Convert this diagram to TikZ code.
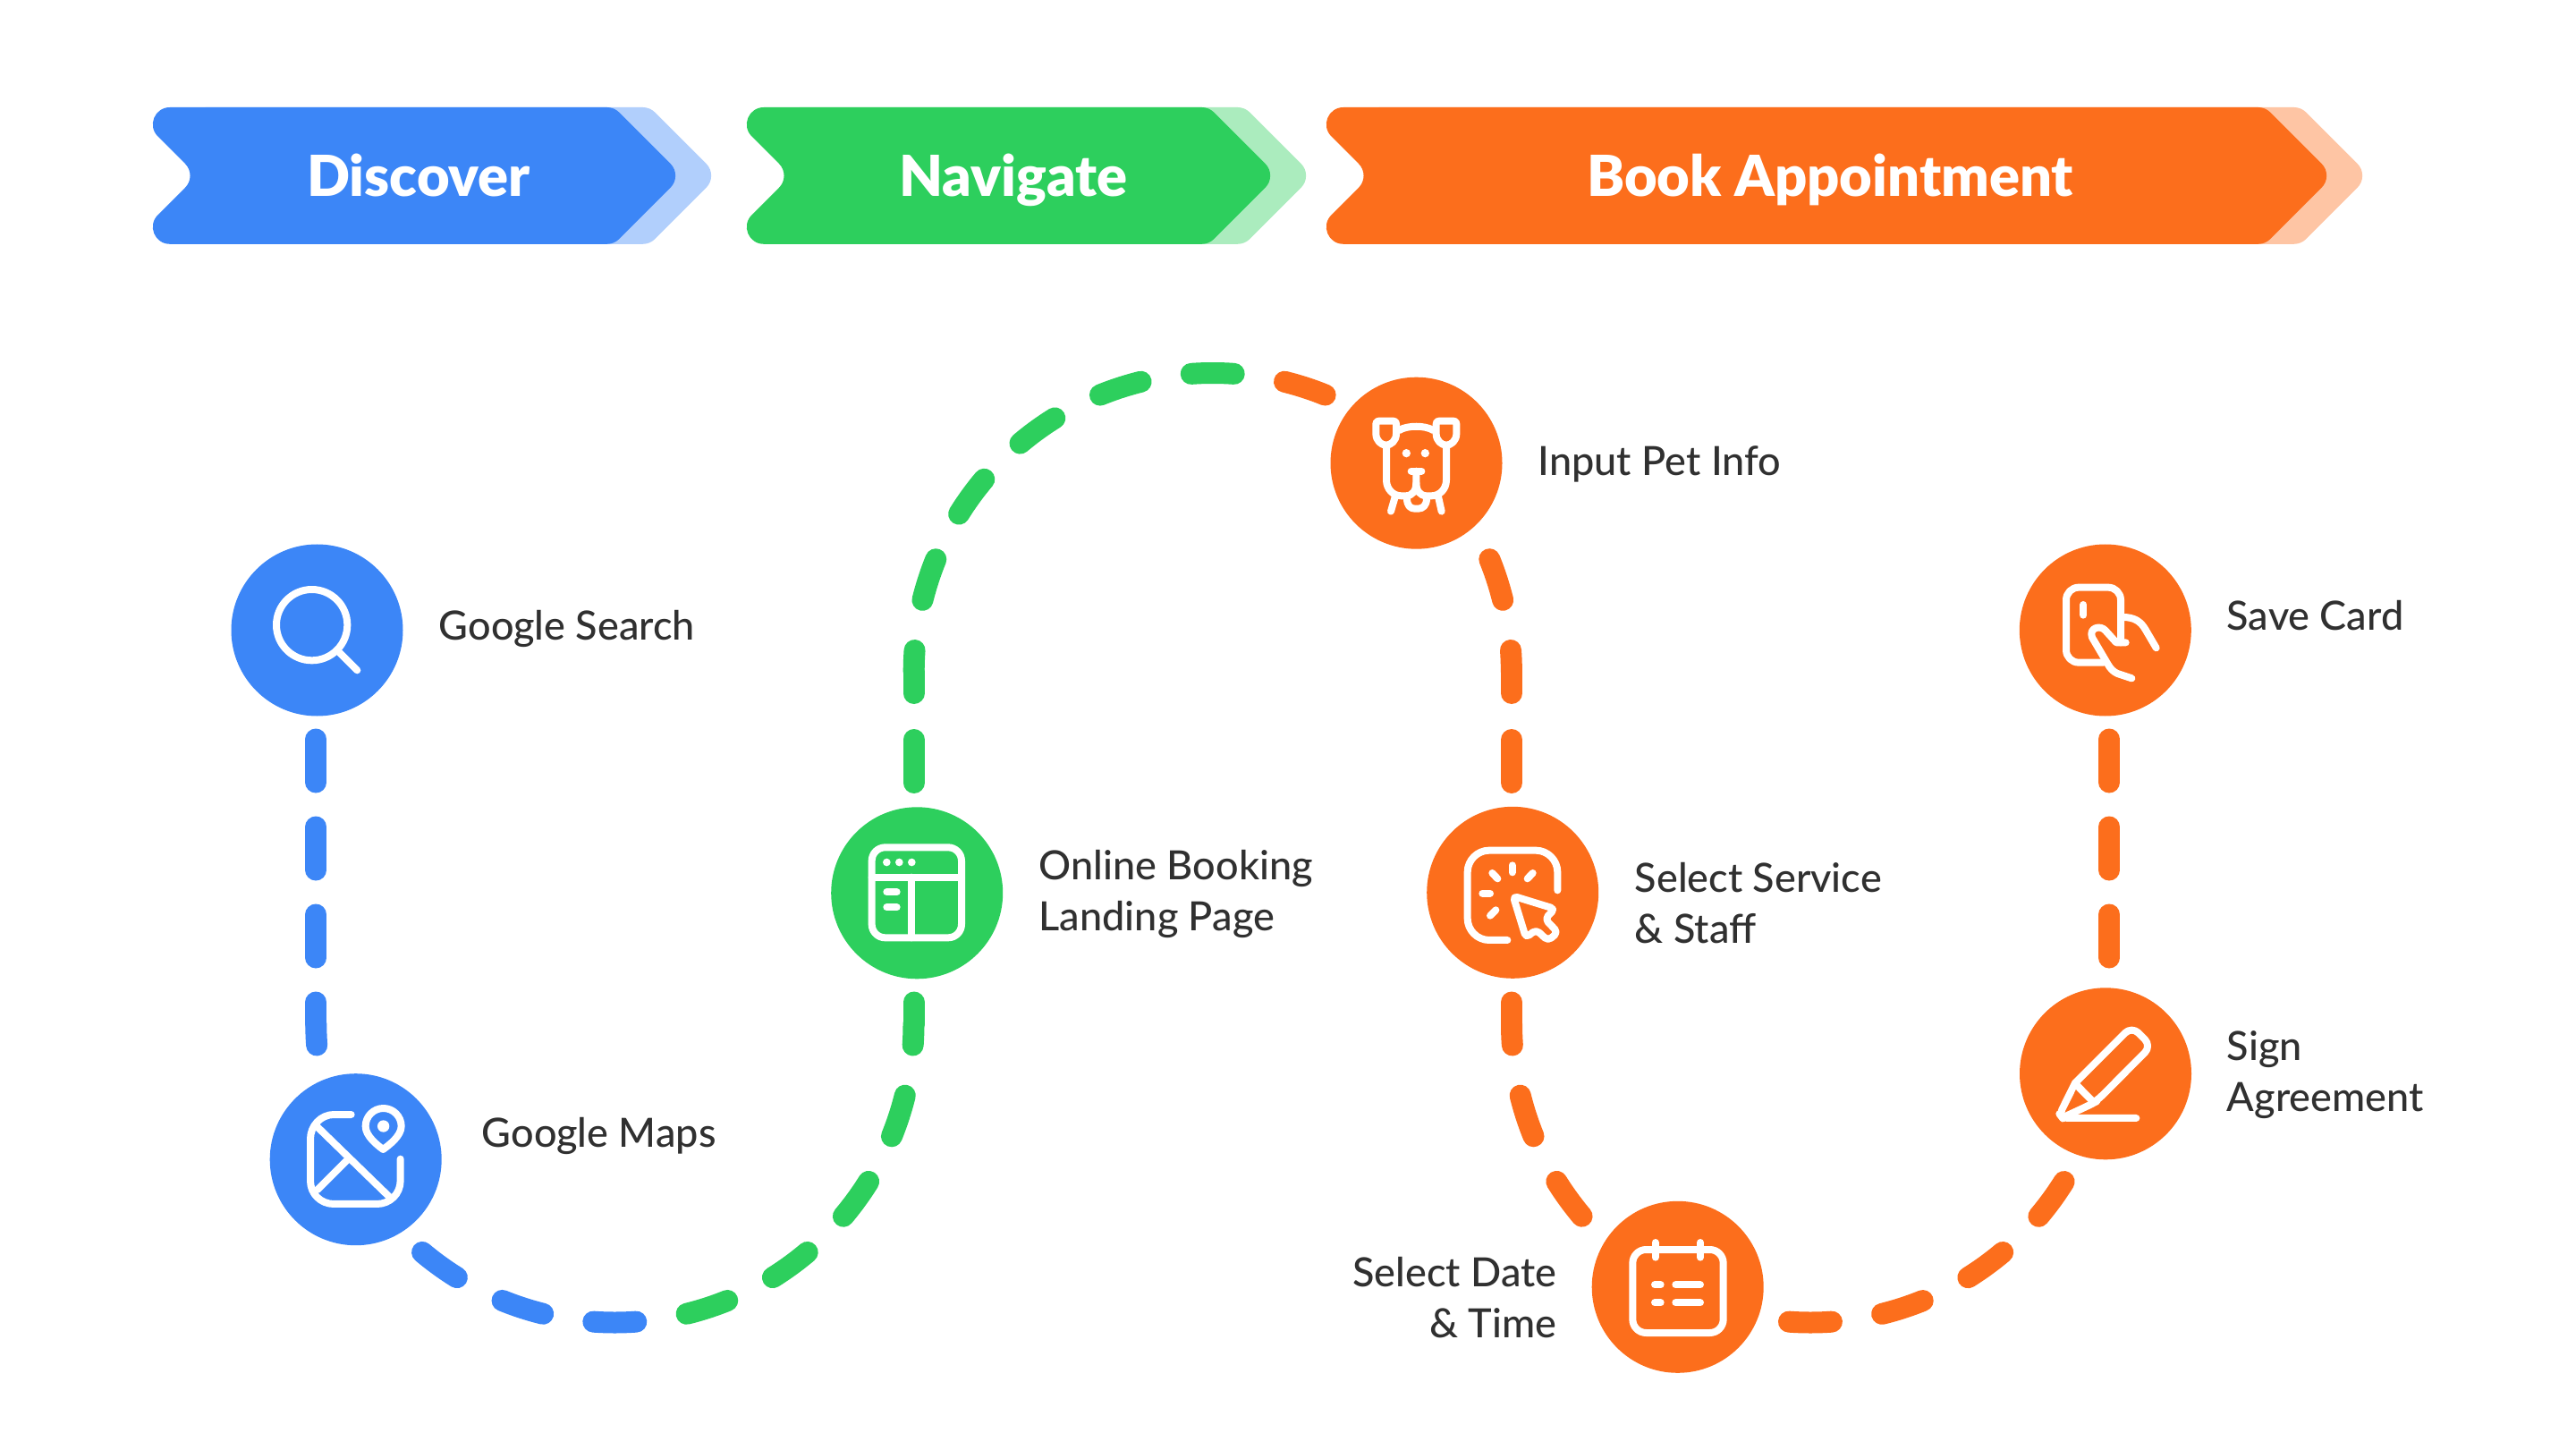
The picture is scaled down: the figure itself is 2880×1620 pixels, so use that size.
\documentclass[tikz,border=0pt]{standalone}
\usepackage{fontspec}
\setmainfont{Lato}[UprightFont=* Medium,BoldFont=* Black]
\usetikzlibrary{backgrounds}
\definecolor{cblue}{RGB}{60,134,247}
\definecolor{cgreen}{RGB}{45,207,93}
\definecolor{corange}{RGB}{252,110,28}
\definecolor{lblue}{RGB}{177,207,252}
\definecolor{lgreen}{RGB}{171,236,190}
\definecolor{lorange}{RGB}{254,197,164}
\definecolor{ctext}{RGB}{48,48,48}
\newcommand{\chev}[3]{%
\fill[#3] ({#1+45.87},1500) -- ({#2-84.27},1500) .. controls ({#2-79.24},1500) and ({#2-74.4},1498) .. ({#2-70.84},1494.44)
 -- ({#2-13.43},1437.03) .. controls ({#2-6.01},1429.61) and ({#2-6.01},1417.59) .. ({#2-13.43},1410.17)
 -- ({#2-70.84},1352.76) .. controls ({#2-74.4},1349.2) and ({#2-79.24},1347.2) .. ({#2-84.27},1347.2)
 -- ({#1+45.87},1347.2) .. controls ({#1+28.94},1347.2) and ({#1+20.46},1367.66) .. ({#1+32.43},1379.63)
 -- ({#1+62.97},1410.17) .. controls ({#1+70.39},1417.59) and ({#1+70.39},1429.61) .. ({#1+62.97},1437.03)
 -- ({#1+32.43},1467.57) .. controls ({#1+20.46},1479.54) and ({#1+28.94},1500) .. cycle;}
\tikzset{
 stepnode/.style={circle,minimum size=48pt,inner sep=0pt,fill=#1},
 steptitle/.style={anchor=base,inner sep=0pt,text=white,font=\fontsize{15.8}{20}\selectfont\bfseries},
 steplabel/.style={anchor=base west,inner sep=0pt,text=ctext,font=\fontsize{11.25}{14.2}\selectfont},
 steplabelr/.style={anchor=base east,inner sep=0pt,text=ctext,font=\fontsize{11.25}{14.2}\selectfont},
 vdash/.style={line width=6pt,dash pattern=on 12pt off 12.5pt,dash phase=6pt,line cap=round},
 vdashb/.style={line width=6pt,dash pattern=on 12pt off 13pt,dash phase=6pt,line cap=round},
 adash/.style={line width=6pt,dash pattern=on 12pt off 14.2325pt,dash phase=6pt,line cap=round},
 adashb/.style={line width=6pt,dash pattern=on 12pt off 14.2325pt,dash phase=19.116pt,line cap=round},
 iconat/.style 2 args={shift={(#1,1620-#2)},x=0.083333pt,y=-0.083333pt},
 ico/.style={draw=white,line width=2pt,line cap=round,line join=round},
 dot/.style={fill=white},
}
\begin{document}
\begin{tikzpicture}[x=0.25pt,y=0.25pt]
\useasboundingbox (0,0) rectangle (2880,1620);
% header chevrons
\chev{184}{803}{lblue}\chev{144}{763}{cblue}
\chev{848}{1468}{lgreen}\chev{808}{1428}{cgreen}
\chev{1496}{2649}{lorange}\chev{1456}{2609}{corange}
\node[steptitle] (tDiscover) at (468,1400) {Discover};
\node[steptitle] (tNavigate) at (1133,1400) {Navigate};
\node[steptitle] (tBook) at (2046,1400) {Book Appointment};
% nodes
\node[stepnode=cblue] (search) at (354.5,915.5) {};
\node[stepnode=cblue] (maps) at (397.7,323.8) {};
\node[stepnode=cgreen] (landing) at (1025.2,621.7) {};
\node[stepnode=corange] (pet) at (1583.5,1102.3) {};
\node[stepnode=corange] (service) at (1691.2,622.2) {};
\node[stepnode=corange] (date) at (1875.7,181.2) {};
\node[stepnode=corange] (save) at (2353.8,915.5) {};
\node[stepnode=corange] (sign) at (2354,419.7) {};
% way points
\coordinate (turnA) at (353.3,475.5);
\coordinate (bandg) at (739.75,145.61);
\coordinate (turnB) at (1021.7,475.5);
\coordinate (turnC) at (1021.7,869);
\coordinate (gando) at (1408.1,1198.89);
\coordinate (turnD) at (1690,869);
\coordinate (turnE) at (1690,475.5);
\coordinate (turnF) at (2358.3,475.5);
% connectors
\begin{scope}[on background layer]
\fill[white] (0,0) rectangle (2880,1620);
\draw[vdash,cblue] (turnA) -- (turnA |- search);
\draw[adash,cblue] (turnA) arc[start angle=180,end angle=279,radius=334];
\draw[adashb,cgreen] (bandg) arc[start angle=279,end angle=360,radius=334];
\draw[vdashb,cgreen] (turnB) -- (turnB |- landing);
\draw[vdashb,cgreen] (turnC) -- (turnC |- landing);
\draw[adash,cgreen] (turnC) arc[start angle=180,end angle=81,radius=334];
\draw[adashb,corange] (gando) arc[start angle=81,end angle=0,radius=334];
\draw[vdashb,corange] (turnD) -- (turnD |- service);
\draw[vdashb,corange] (turnE) -- (turnE |- service);
\draw[adash,corange] (turnE) arc[start angle=180,end angle=360,radius=334];
\draw[vdash,corange] (turnF) -- (turnF |- save);
\end{scope}
% labels
\node[steplabel] (lSearch) at (490,904) {Google Search};
\node[steplabel] (lMaps) at (538,338) {Google Maps};
\node[steplabel] (lLanding1) at (1161,637) {Online Booking};
\node[steplabel] (lLanding2) at (1161,580) {Landing Page};
\node[steplabel] (lPet) at (1719,1088) {Input Pet Info};
\node[steplabel] (lService1) at (1827,623) {Select Service};
\node[steplabel] (lService2) at (1827,566) {\& Staff};
\node[steplabel] (lSave) at (2489,916) {Save Card};
\node[steplabel] (lSign1) at (2489,435) {Sign};
\node[steplabel] (lSign2) at (2489,378) {Agreement};
\node[steplabelr] (lDate1) at (1741,182) {Select Date};
\node[steplabelr] (lDate2) at (1741,125) {\& Time};
% icon: search
\begin{scope}[iconat={240}{590}]
\draw[ico] (326,326) circle[radius=119];
\draw[ico] (420,420) -- (478,478);
\end{scope}
% icon: maps
\begin{scope}[iconat={280}{1180}]
\draw[ico] (338,198) -- (280,198) .. controls (236,198) and (201,236) .. (201,280) -- (201,420) .. controls (201,464) and (236,498) .. (280,498) -- (424,498) .. controls (468,498) and (503,464) .. (503,420) -- (503,347);
\draw[ico] (225,240) -- (470,478);
\draw[ico] (325,350) -- (225,450);
\draw[ico] (445,315) .. controls (425,300) and (386,270) .. (386,237) .. controls (386,204) and (413,177) .. (446,177) .. controls (479,177) and (506,204) .. (506,237) .. controls (506,270) and (465,300) .. (445,315) -- cycle;
\fill[dot] (446,237) circle[radius=20];
\end{scope}
% icon: landing page
\begin{scope}[iconat={910}{880}]
\draw[ico,rounded corners=3.75pt] (194,202) rectangle (495,505);
\draw[ico] (194,302) -- (495,302);
\draw[ico] (328,302) -- (328,505);
\fill[dot] (244,252) circle[radius=13];
\fill[dot] (286,252) circle[radius=13];
\fill[dot] (328,252) circle[radius=13];
\draw[ico] (244,352) -- (278,352);
\draw[ico] (244,403) -- (278,403);
\end{scope}
% icon: pet
\begin{scope}[iconat={1470}{400}]
\draw[ico] (205,222) .. controls (205,215) and (208,212) .. (215,212) -- (263,212) .. controls (270,212) and (273,215) .. (273,222) -- (273,255) .. controls (273,278) and (255,293) .. (239,293) .. controls (223,293) and (205,278) .. (205,255) -- cycle;
\draw[ico] (407,222) .. controls (407,215) and (410,212) .. (417,212) -- (465,212) .. controls (472,212) and (475,215) .. (475,222) -- (475,255) .. controls (475,278) and (457,293) .. (441,293) .. controls (425,293) and (407,278) .. (407,255) -- cycle;
\draw[ico] (283,243) .. controls (310,226) and (370,226) .. (397,243);
\draw[ico] (240,300) -- (240,410) .. controls (240,440) and (262,463) .. (290,463) -- (305,463) .. controls (328,463) and (340,445) .. (340,420) -- (340,380);
\draw[ico] (441,300) -- (441,410) .. controls (441,440) and (419,463) .. (391,463) -- (375,463) .. controls (352,463) and (340,445) .. (340,420);
\draw[ico] (323,380) -- (358,380);
\fill[dot] (307,320) circle[radius=14];
\fill[dot] (370,320) circle[radius=14];
\draw[ico] (309,472) .. controls (309,495) and (320,506) .. (335,506) -- (347,506) .. controls (362,506) and (375,495) .. (375,472);
\draw[ico] (268,470) -- (255,515);
\draw[ico] (415,470) -- (425,515);
\end{scope}
% icon: service
\begin{scope}[iconat={1570}{880}]
\draw[ico] (346,513) -- (285,513) .. controls (245,513) and (212,480) .. (212,440) -- (212,285) .. controls (212,245) and (245,212) .. (285,212) -- (441,212) .. controls (481,212) and (514,245) .. (514,285) -- (514,346);
\draw[ico] (362,262) -- (362,286);
\draw[ico] (295,288) -- (313,307);
\draw[ico] (431,288) -- (413,307);
\draw[ico] (262,356) -- (288,356);
\draw[ico] (307,412) -- (288,431);
\draw[ico,rounded corners=1.2pt] (365,365) -- (505,408) -- (472,442) -- (515,487) -- (482,515) -- (442,478) -- (408,505) -- cycle;
\end{scope}
% icon: date
\begin{scope}[iconat={1760}{1320}]
\draw[ico,rounded corners=3.75pt] (196,231) rectangle (500,510);
\draw[ico] (272,207) -- (272,257);
\draw[ico] (423,207) -- (423,257);
\draw[ico] (270,349) -- (290,349);
\draw[ico] (340,349) -- (423,349);
\draw[ico] (270,409) -- (290,409);
\draw[ico] (340,409) -- (423,409);
\end{scope}
% icon: save card
\begin{scope}[iconat={2240}{590}]
\draw[ico,rounded corners=3.5pt] (335,452) -- (210,452) -- (210,200) -- (393,200) -- (393,385);
\draw[ico] (268,258) -- (268,293);
\draw[ico] (410,385) -- (378,385) -- (342,345) .. controls (325,325) and (285,335) .. (297,368) -- (350,458) .. controls (358,472) and (368,483) .. (382,489) -- (430,505);
\draw[ico] (400,300) .. controls (440,300) and (460,315) .. (475,340) -- (512,403);
\end{scope}
% icon: sign
\begin{scope}[iconat={2240}{1080}]
\draw[ico,rounded corners=2.6pt] (240,392) -- (430,202) -- (496,268) -- (310,455) -- (285,468) -- (205,505);
\draw[ico] (248,402) -- (300,455);
\draw[ico,rounded corners=1.5pt] (240,392) -- (188,497) -- (198,510) -- (445,510);
\end{scope}
\end{tikzpicture}
\end{document}
